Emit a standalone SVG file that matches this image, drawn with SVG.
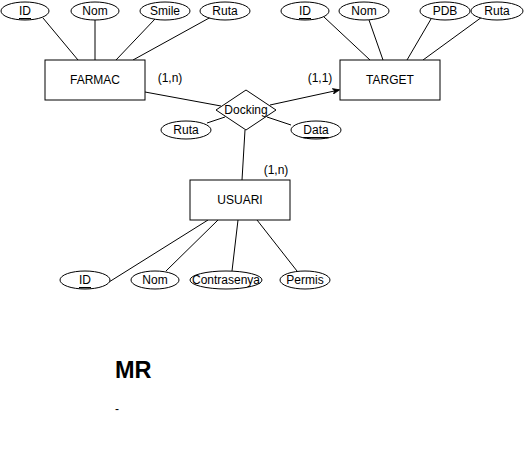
<svg xmlns="http://www.w3.org/2000/svg" width="531" height="471" viewBox="0 0 531 471">
<style>
text{font-family:"Liberation Sans",Arial,Helvetica,sans-serif;font-size:12px;fill:#000;text-anchor:middle;dominant-baseline:central}
.shape{fill:#fff;stroke:#000;stroke-width:1}
.edge{stroke:#000;stroke-width:1;fill:none}
.u{text-decoration:underline}
</style>
<defs>
<marker id="arr" viewBox="0 0 10 10" refX="9" refY="5" markerWidth="7" markerHeight="7" orient="auto" markerUnits="userSpaceOnUse">
<path d="M0,1 L10,5 L0,9 L2.5,5 Z" fill="#000" stroke="#000" stroke-width="1"/>
</marker>
</defs>
<rect width="531" height="471" fill="#fff"/>
<g id="connectors">
<line class="edge" x1="43" y1="18" x2="78" y2="60"/>
<line class="edge" x1="95" y1="20" x2="95" y2="60"/>
<line class="edge" x1="155" y1="19" x2="116" y2="60"/>
<line class="edge" x1="211" y1="17" x2="133" y2="60"/>
<line class="edge" x1="324" y1="17" x2="370" y2="60"/>
<line class="edge" x1="369" y1="20" x2="383" y2="60"/>
<line class="edge" x1="431" y1="19" x2="407" y2="60"/>
<line class="edge" x1="482" y1="17" x2="423" y2="60"/>
<line class="edge" x1="145" y1="92" x2="221" y2="106"/>
<line class="edge" x1="270" y1="105" x2="339" y2="90" marker-end="url(#arr)"/>
<line class="edge" x1="207" y1="123" x2="225" y2="117"/>
<line class="edge" x1="267" y1="117" x2="291" y2="125"/>
<line class="edge" x1="245" y1="130" x2="242" y2="180"/>
<line class="edge" x1="109" y1="282" x2="208" y2="220"/>
<line class="edge" x1="166" y1="271" x2="218" y2="220"/>
<line class="edge" x1="232" y1="271" x2="238" y2="220"/>
<line class="edge" x1="297" y1="271" x2="257" y2="220"/>
</g>
<g id="farmac"><rect class="shape" x="45" y="60" width="100" height="40"/><text x="95" y="80">FARMAC</text></g>
<g id="farmac-id"><ellipse class="shape" cx="25" cy="11" rx="24" ry="9"/><text class="u" x="25" y="11">ID</text></g>
<g id="farmac-nom"><ellipse class="shape" cx="95" cy="11" rx="24" ry="9"/><text x="95" y="11">Nom</text></g>
<g id="farmac-smile"><ellipse class="shape" cx="165" cy="11" rx="25" ry="9"/><text x="165" y="11">Smile</text></g>
<g id="farmac-ruta"><ellipse class="shape" cx="225" cy="11" rx="25" ry="9"/><text x="225" y="11">Ruta</text></g>
<g id="target"><rect class="shape" x="340" y="60" width="100" height="40"/><text x="390" y="80">TARGET</text></g>
<g id="target-id"><ellipse class="shape" cx="305" cy="11" rx="24" ry="9"/><text class="u" x="305" y="11">ID</text></g>
<g id="target-nom"><ellipse class="shape" cx="364" cy="11" rx="25" ry="9"/><text x="364" y="11">Nom</text></g>
<g id="target-pdb"><ellipse class="shape" cx="445" cy="11" rx="25" ry="9"/><text x="445" y="11">PDB</text></g>
<g id="target-ruta"><ellipse class="shape" cx="497" cy="11" rx="26" ry="9"/><text x="497" y="11">Ruta</text></g>
<g id="docking"><polygon class="shape" points="246,90 276,110 246,130 216,110"/><text x="246" y="110">Docking</text></g>
<g id="docking-ruta"><ellipse class="shape" cx="186" cy="130" rx="25" ry="9"/><text x="186" y="130">Ruta</text></g>
<g id="docking-data"><ellipse class="shape" cx="316" cy="130" rx="25" ry="9"/><text class="u" x="316" y="130">Data</text></g>
<g id="usuari"><rect class="shape" x="190" y="180" width="100" height="40"/><text x="240" y="200">USUARI</text></g>
<g id="usuari-id"><ellipse class="shape" cx="85" cy="280" rx="25" ry="9"/><text class="u" x="85" y="280">ID</text></g>
<g id="usuari-nom"><ellipse class="shape" cx="155" cy="280" rx="24" ry="9"/><text x="155" y="280">Nom</text></g>
<g id="usuari-contrasenya"><ellipse class="shape" cx="226" cy="280" rx="36" ry="9"/><text x="226" y="280">Contrasenya</text></g>
<g id="usuari-permis"><ellipse class="shape" cx="305" cy="280" rx="25" ry="9"/><text x="305" y="280">Permis</text></g>
<g id="labels">
<text x="170" y="78">(1,n)</text>
<text x="320" y="78">(1,1)</text>
<text x="276" y="170">(1,n)</text>
</g>
<g id="mr">
<text x="115" y="378" style="text-anchor:start;dominant-baseline:auto;font-size:23.5px;font-weight:bold">MR</text>
<text x="115" y="409" style="text-anchor:start">-</text>
</g>
</svg>
